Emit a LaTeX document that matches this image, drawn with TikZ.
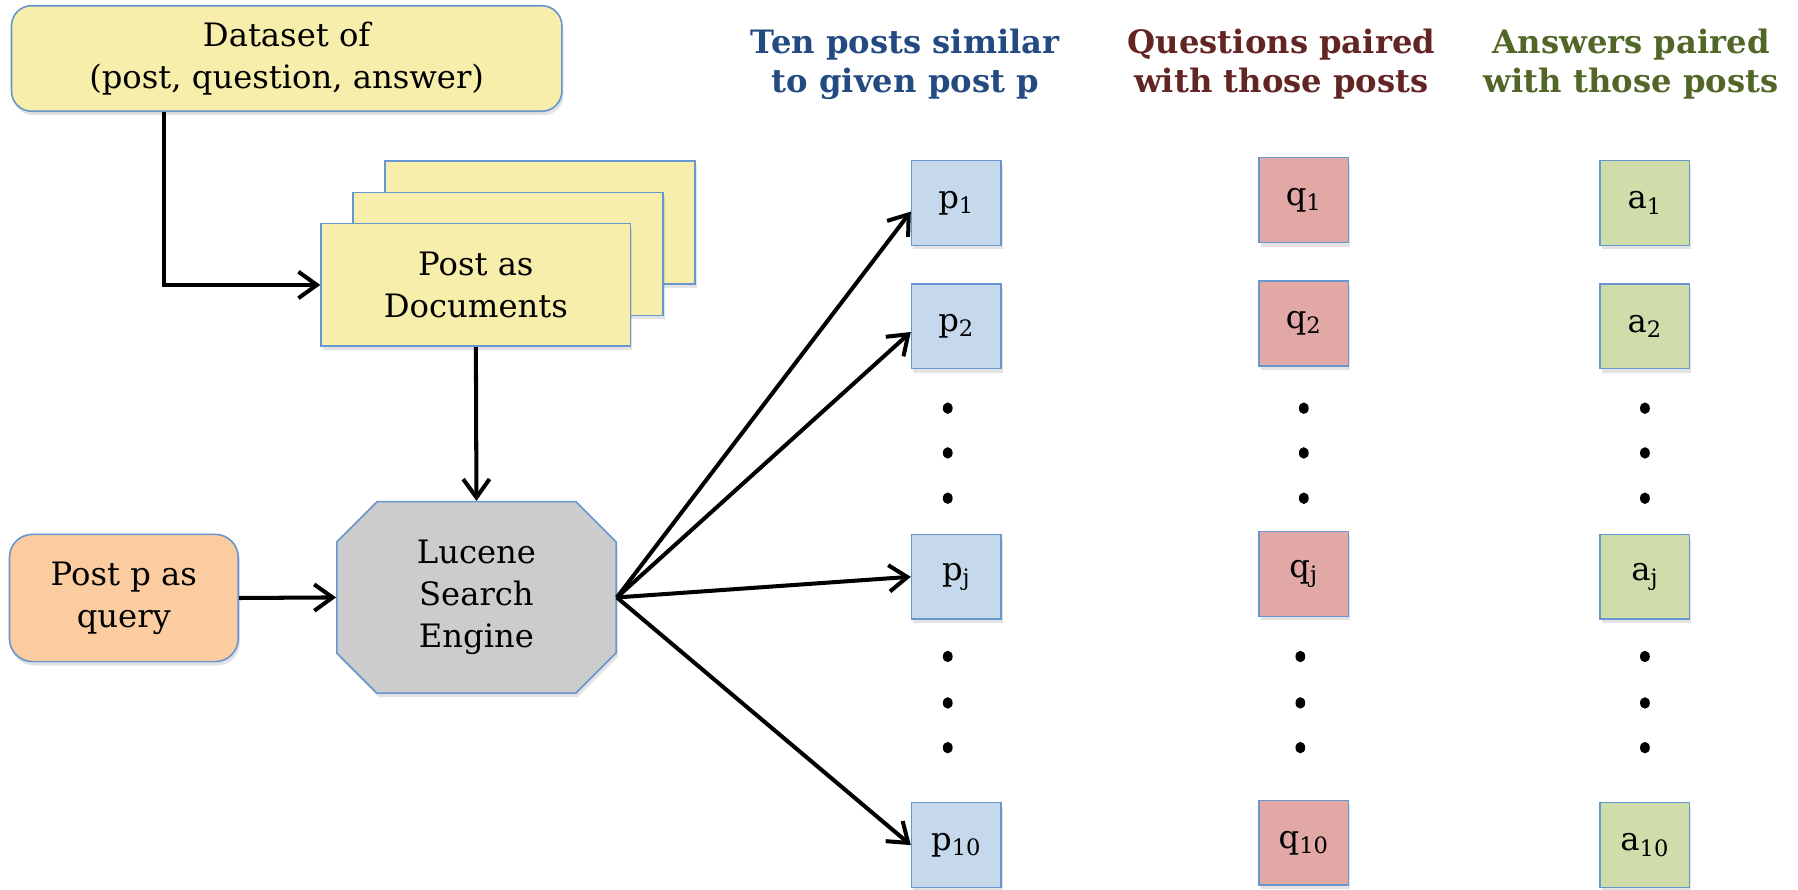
\documentclass[tikz,border=0pt]{standalone}
\usepackage{fontspec}
\setmainfont{DejaVu Serif}
\usetikzlibrary{arrows.meta,shapes.misc,shadows}
\definecolor{docyellow}{RGB}{246,238,170}
\definecolor{peach}{RGB}{250,204,160}
\definecolor{lucgray}{RGB}{204,204,204}
\definecolor{pblue}{RGB}{197,216,236}
\definecolor{qred}{RGB}{226,168,166}
\definecolor{agreen}{RGB}{206,221,170}
\definecolor{edgeblue}{RGB}{104,150,206}
\definecolor{hdblue}{RGB}{35,75,130}
\definecolor{hdred}{RGB}{99,37,35}
\definecolor{hdgreen}{RGB}{82,102,40}

\begin{document}
\begin{tikzpicture}[
  every node/.style={font=\fontsize{16}{20.8}\selectfont, align=center},
  boxshadow/.style={drop shadow={shadow xshift=0.03cm, shadow yshift=-0.07cm, opacity=0.22}},
  roundbox/.style={draw=edgeblue, line width=0.8pt, rounded corners=0.35cm, boxshadow},
  docbox/.style={draw=edgeblue, line width=0.8pt, fill=docyellow, minimum width=5.4cm, minimum height=2.14cm, boxshadow},
  cell/.style={draw=edgeblue, line width=0.8pt, minimum width=1.56cm, minimum height=1.48cm, inner sep=0pt, boxshadow},
  head/.style={font=\bfseries\fontsize{16}{19.3}\selectfont},
  arr/.style={line width=2pt, -{Straight Barb[length=0.32cm, width=0.46cm]}}
]
\useasboundingbox (0,0) rectangle (31.36,15.52);

% left part
\node (data) at (5.0,14.5) [roundbox, fill=docyellow, minimum width=9.6cm, minimum height=1.84cm]{Dataset of\\(post, question, answer)};
\node (doc3) at (9.42,11.64) [docbox]{};
\node (doc2) at (8.86,11.09) [docbox]{};
\node (doc1) at (8.30,10.55) [docbox]{Post as\\Documents};
\node (query) at (2.16,5.09) [roundbox, fill=peach, rounded corners=0.4cm, minimum width=3.99cm, minimum height=2.22cm]{Post p as\\query};
\node (lucene) at (8.31,5.10) [chamfered rectangle, chamfered rectangle xsep=0.35cm, chamfered rectangle ysep=0.35cm, draw=edgeblue, line width=0.8pt, fill=lucgray, minimum width=4.87cm, minimum height=3.34cm, boxshadow]{Lucene\\Search\\Engine};

% column headers
\node (hp) at (15.79,14.40) [head, text=hdblue]{Ten posts similar\\to given post p};
\node (hq) at (22.35,14.40) [head, text=hdred]{Questions paired\\with those posts};
\node (ha) at (28.45,14.40) [head, text=hdgreen]{Answers paired\\with those posts};

% posts
\node (p1) at (16.68,11.98) [cell, fill=pblue]{p\textsubscript{1}};
\node (p2) at (16.68,9.83) [cell, fill=pblue]{p\textsubscript{2}};
\node (pj) at (16.68,5.46) [cell, fill=pblue]{p\textsubscript{j}};
\node (p10) at (16.68,0.78) [cell, fill=pblue]{p\textsubscript{10}};

% questions
\node (q1) at (22.74,12.03) [cell, fill=qred]{q\textsubscript{1}};
\node (q2) at (22.74,9.88) [cell, fill=qred]{q\textsubscript{2}};
\node (qj) at (22.74,5.51) [cell, fill=qred]{q\textsubscript{j}};
\node (q10) at (22.74,0.82) [cell, fill=qred]{q\textsubscript{10}};

% answers
\node (a1) at (28.69,11.98) [cell, fill=agreen]{a\textsubscript{1}};
\node (a2) at (28.69,9.83) [cell, fill=agreen]{a\textsubscript{2}};
\node (aj) at (28.69,5.46) [cell, fill=agreen]{a\textsubscript{j}};
\node (a10) at (28.69,0.78) [cell, fill=agreen]{a\textsubscript{10}};

% dots
\fill (16.53,8.40) ellipse (0.085 and 0.1) (16.53,7.62) ellipse (0.085 and 0.1) (16.53,6.83) ellipse (0.085 and 0.1);
\fill (16.53,4.07) ellipse (0.085 and 0.1) (16.53,3.26) ellipse (0.085 and 0.1) (16.53,2.48) ellipse (0.085 and 0.1);
\fill (22.74,8.40) ellipse (0.085 and 0.1) (22.74,7.62) ellipse (0.085 and 0.1) (22.74,6.83) ellipse (0.085 and 0.1);
\fill (22.68,4.07) ellipse (0.085 and 0.1) (22.68,3.26) ellipse (0.085 and 0.1) (22.68,2.48) ellipse (0.085 and 0.1);
\fill (28.69,8.40) ellipse (0.085 and 0.1) (28.69,7.62) ellipse (0.085 and 0.1) (28.69,6.83) ellipse (0.085 and 0.1);
\fill (28.69,4.07) ellipse (0.085 and 0.1) (28.69,3.26) ellipse (0.085 and 0.1) (28.69,2.48) ellipse (0.085 and 0.1);

% arrows
\draw[arr] ([xshift=2.67cm]data.south west) |- (doc1.west);
\draw[arr] (doc1.south) -- (lucene.north);
\draw[arr] (query.east) -- (lucene.west);
\draw[arr] (lucene.east) -- ([yshift=-0.15cm]p1.west);
\draw[arr] (lucene.east) -- ([yshift=-0.1cm]p2.west);
\draw[arr] (lucene.east) -- (pj.west);
\draw[arr] (lucene.east) -- (p10.west);

\end{tikzpicture}
\end{document}
